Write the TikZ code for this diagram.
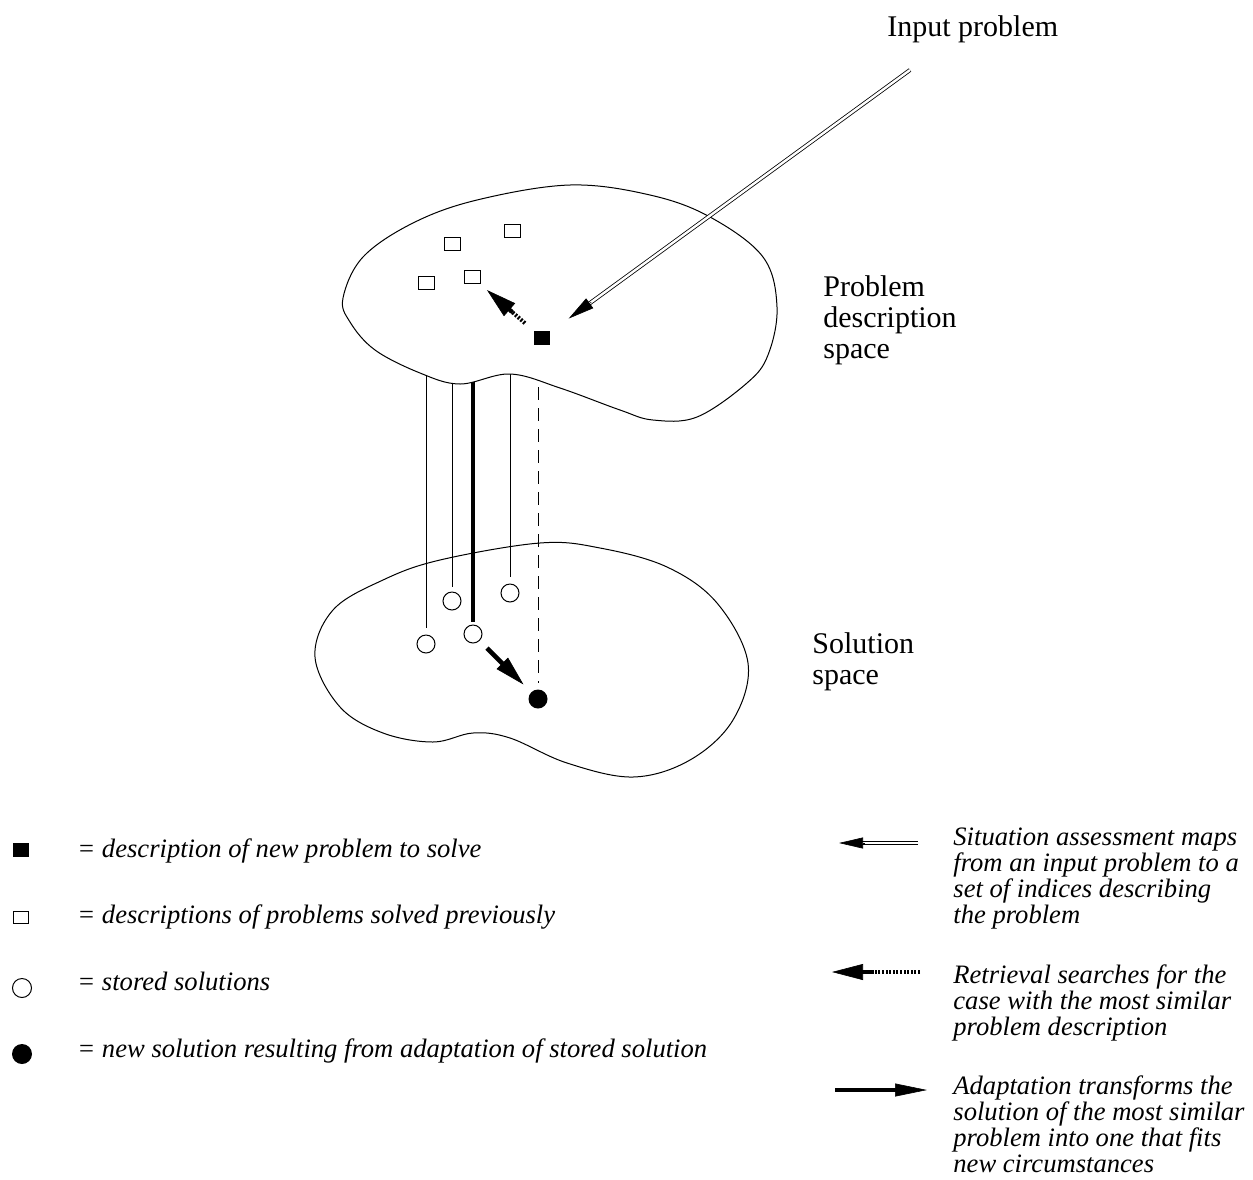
\documentclass[tikz,border=0pt]{standalone}
\usepackage{fontspec}
\setmainfont{Liberation Serif}
\usetikzlibrary{arrows.meta,calc}
\begin{document}
\begin{tikzpicture}[x=0.5pt,y=-0.5pt,
  blob/.style={line width=0.5pt, line join=round},
  oldp/.style={draw, line width=0.5pt, rectangle, minimum width=8pt, minimum height=6.5pt, inner sep=0pt, fill=white},
  newp/.style={fill=black, rectangle, minimum width=8pt, minimum height=7pt, inner sep=0pt},
  sol/.style={draw, circle, line width=0.5pt, minimum size=9pt, inner sep=0pt, fill=white},
  newsol/.style={fill=black, circle, minimum size=9.5pt, inner sep=0pt},
  link/.style={line width=0.5pt},
  biglink/.style={line width=2pt},
  dashlink/.style={line width=0.5pt, dash pattern=on 6.5pt off 4pt},
  dbl/.style={line width=0.4pt, double, double distance=1.2pt},
  retr/.style={line width=2pt, dash pattern=on 1pt off 0.8pt},
  adapt/.style={line width=2.3pt},
  biglabel/.style={font=\fontsize{15}{15.5}\selectfont, align=left, inner sep=0pt, anchor=base west},
  note/.style={font=\fontsize{13.3}{13}\selectfont\itshape, align=left, inner sep=0pt, anchor=base west}
]
\useasboundingbox (0,0) rectangle (1253,1179);

% lower blob (solution space)
\draw[blob] plot[smooth cycle, tension=0.6] coordinates {
 (315,657) (333,610) (383,580) (440,560) (540,543) (600,548) (667,567) (717,603)
 (748,663) (733,720) (690,760) (633,777) (567,763) (510,738) (473,733) (433,742)
 (383,733) (340,707)};

% solution nodes
\node[sol] (c1) at (426,644) {};
\node[sol] (c2) at (452,601) {};
\node[sol] (c3) at (473,634) {};
\node[sol] (c4) at (510,593) {};
\node[newsol] (ns) at (538,699) {};

% links from problem space to solutions
\coordinate (top) at (0,345);
\coordinate (dtop) at (0,387);
\draw[link] (c1.north |- top) -- ([yshift=3.5pt]c1.north);
\draw[link] (c2.north |- top) -- ([yshift=2.5pt]c2.north);
\draw[biglink] (c3.north |- top) -- ([yshift=1.5pt]c3.north);
\draw[link] (c4.north |- top) -- ([yshift=3.5pt]c4.north);
\draw[dashlink] (ns.north |- dtop) -- ([yshift=3pt]ns.north);

% upper blob (problem description space)
\draw[blob, fill=white] plot[smooth cycle, tension=0.6] coordinates {
 (343,298) (363,257) (413,223) (477,200) (570,185) (650,195) (710,217) (763,257)
 (777,307) (768,355) (747,383) (697,417) (653,420) (620,410) (560,388) (510,374)
 (460,384) (420,373) (375,350) (350,322)};

% problem nodes
\node[oldp] (p1) at (512,231) {};
\node[oldp] (p2) at (452,244) {};
\node[oldp] (p3) at (472,277) {};
\node[oldp] (p4) at (426,283) {};
\node[newp] (np) at (542,338) {};

% input arrow (situation assessment)
\coordinate (ins) at (910,70);
\coordinate (inh) at ($(np)!16.5pt!(ins)$);
\draw[dbl] (ins) -- ($(inh)!8pt!(ins)$);
\path[draw, line width=0.3pt, -{Triangle[length=13pt,width=6pt]}] ($(inh)!14pt!(ins)$) -- (inh);

% retrieval
\coordinate (rt) at ($(np)!11.3pt!(p3)$);
\coordinate (rh) at ($(np)!36.5pt!(p3)$);
\draw[retr] (rt) -- ($(rh)!14pt!(rt)$);
\draw[line width=2pt] ($(rh)!13pt!(rt)$) -- ($(rh)!17pt!(rt)$);
\path[draw, line width=0.3pt, -{Triangle[length=15pt,width=8.5pt]}] ($(rh)!16pt!(rt)$) -- (rh);

% adaptation
\coordinate (at) at ($(c3)!9.9pt!(ns)$);
\coordinate (ah) at ($(c3)!35.7pt!(ns)$);
\draw[adapt] (at) -- ($(ah)!13pt!(at)$);
\path[draw, line width=0.3pt, -{Triangle[length=15pt,width=8pt]}] ($(ah)!16pt!(at)$) -- (ah);

% labels
\node[biglabel] (inp) at (887,36) {Input problem};
\node[biglabel] (pds) at (823,358) {Problem\\description\\space};
\node[biglabel] (ss) at (812,684) {Solution\\space};

% left legend
\node[newp] (k1) at (21,850) {};
\node[note] (t1) at (77,857) {= description of new problem to solve};
\node[oldp, minimum width=7.5pt, minimum height=6pt] (k2) at (21,917) {};
\node[note] (t2) at (77,923) {= descriptions of problems solved previously};
\node[sol, minimum size=9.5pt] (k3) at (22,988) {};
\node[note] (t3) at (77,990) {= stored solutions};
\node[newsol, minimum size=10pt] (k4) at (22,1054) {};
\node[note] (t4) at (77,1057) {= new solution resulting from adaptation of stored solution};

% right legend arrows
\coordinate (a1s) at (918,843); \coordinate (a1e) at (839,843);
\draw[dbl] (a1s) -- ($(a1e)!8pt!(a1s)$);
\path[draw, line width=0.3pt, -{Triangle[length=12pt,width=5.5pt]}] ($(a1e)!13pt!(a1s)$) -- (a1e);
\coordinate (a2s) at (920,972); \coordinate (a2e) at (832,972);
\draw[retr] (a2s) -- ($(a2e)!20pt!(a2s)$);
\draw[line width=2pt] ($(a2e)!21pt!(a2s)$) -- ($(a2e)!14pt!(a2s)$);
\path[draw, line width=0.3pt, -{Triangle[length=15.5pt,width=8pt]}] ($(a2e)!17pt!(a2s)$) -- (a2e);
\coordinate (a3s) at (835,1090); \coordinate (a3e) at (927,1090);
\draw[adapt] (a3s) -- ($(a3e)!14pt!(a3s)$);
\path[draw, line width=0.3pt, -{Triangle[length=16pt,width=6.5pt]}] ($(a3e)!17pt!(a3s)$) -- (a3e);

% right legend texts
\node[note] (n1) at (953,923) {Situation assessment maps\\from an input problem to a\\set of indices describing\\the problem};
\node[note] (n2) at (953,1035) {Retrieval searches for the\\case with the most similar\\problem description};
\node[note] (n3) at (953,1172) {Adaptation transforms the\\solution of the most similar\\problem into one that fits\\new circumstances};
\end{tikzpicture}
\end{document}
